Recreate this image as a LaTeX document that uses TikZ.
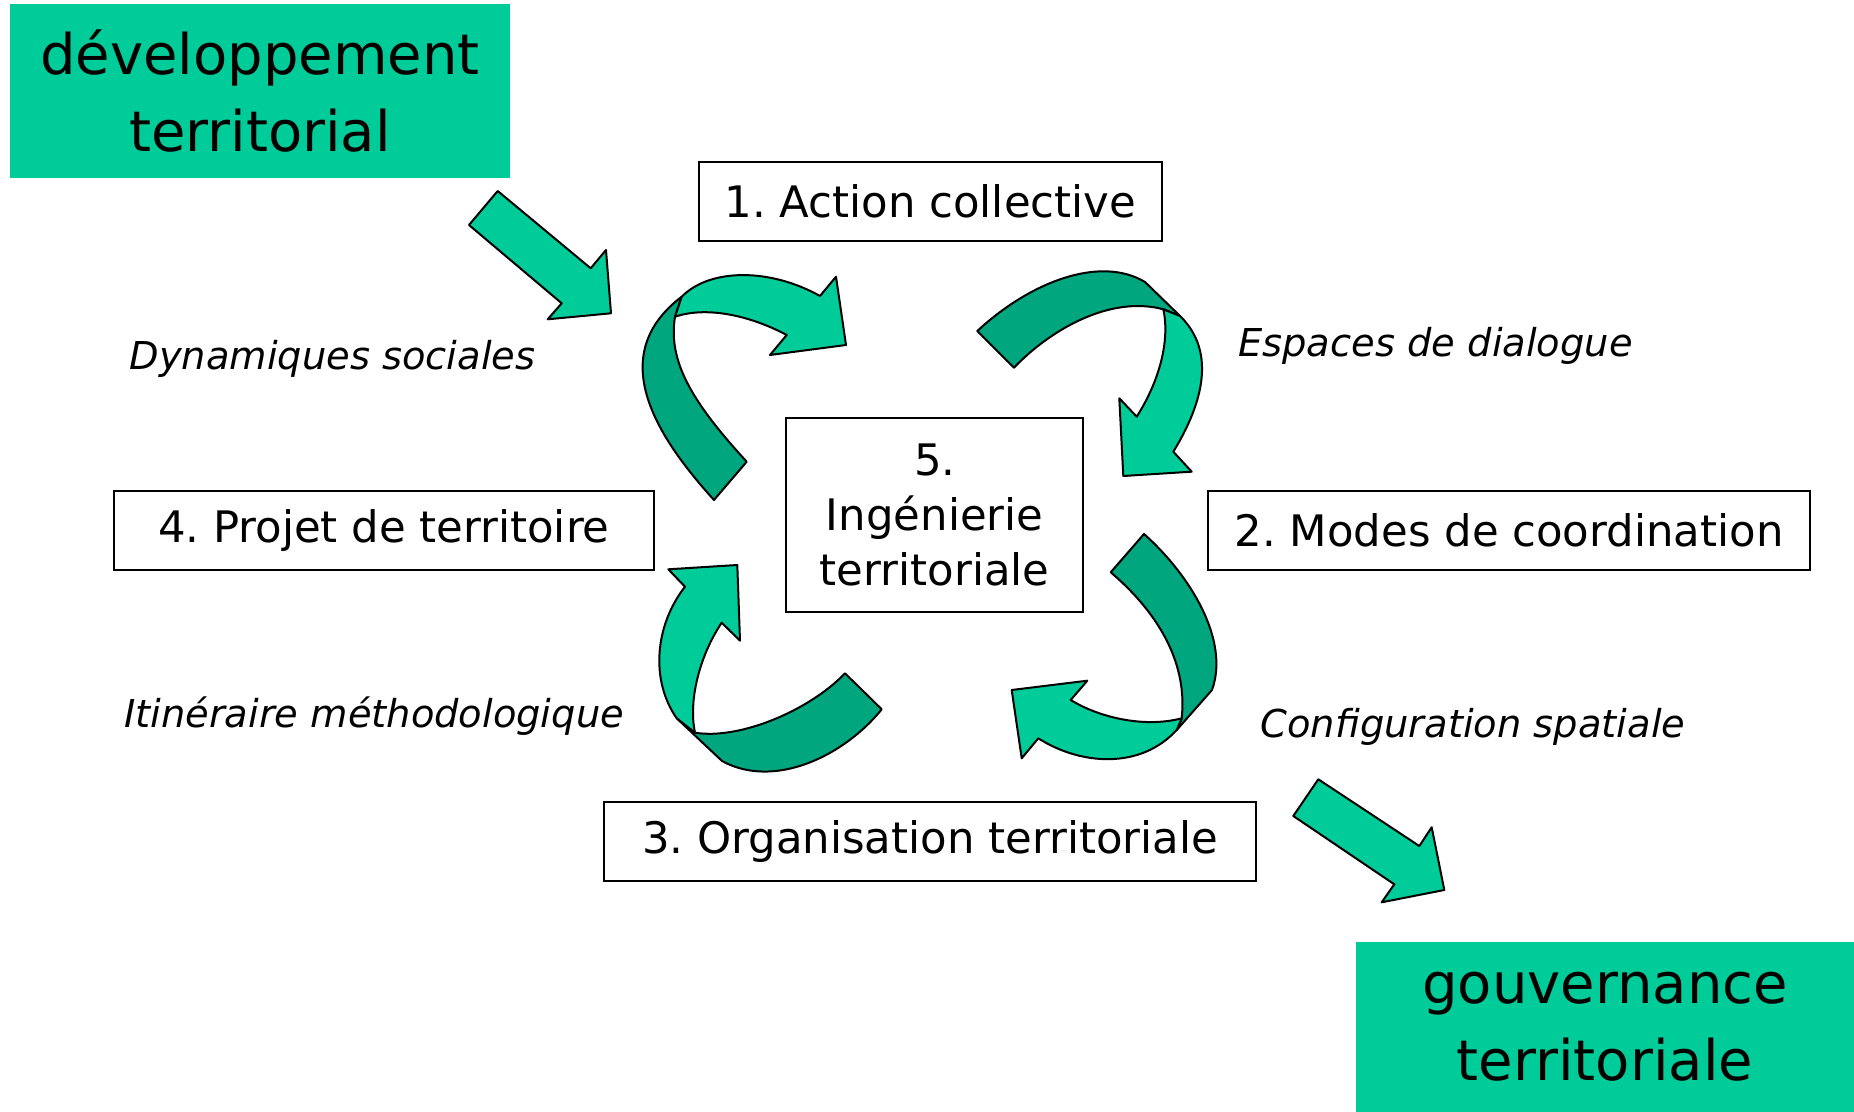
\documentclass[tikz,border=0pt]{standalone}
\usepackage{fontspec}
\setmainfont{DejaVu Sans}
\frenchspacing
\definecolor{lightg}{RGB}{0,204,153}
\definecolor{darkg}{RGB}{0,166,125}
\tikzset{
  box/.style={draw=black, line width=1pt, fill=white, inner sep=0pt, align=center,
    font=\fontsize{21.7}{27.5}\selectfont},
  greenbox/.style={fill=lightg, inner sep=0pt, align=center,
    font=\fontsize{28}{38.5}\selectfont},
  lbl/.style={inner sep=0pt, anchor=base, font=\fontsize{19.2}{22}\selectfont\itshape},
  lightpart/.style={fill=lightg, draw=black, line width=1pt, line join=round},
  darkpart/.style={fill=darkg, draw=black, line width=1pt, line join=round},
}
\begin{document}
\begin{tikzpicture}[x=0.5pt, y=-0.5pt]
\useasboundingbox (0,0) rectangle (1854,1112);

% green boxes
\node[greenbox, minimum width=250pt, minimum height=87.2pt] (dev) at (260,91.2) {développement\\territorial};
\node[greenbox, minimum width=249pt, minimum height=85pt] (gouv) at (1605,1027) {gouvernance\\territoriale};

% straight arrows
\filldraw[lightpart] (497.7,191) -- (590.7,268.3) -- (606,250) -- (611,313.3) -- (547.7,319.3) -- (561.7,303.3) -- (469,225) -- cycle;
\filldraw[lightpart] (1318.3,779.3) -- (1419.3,846) -- (1431.7,827.3) -- (1444.3,890) -- (1381.7,902.3) -- (1394.3,884.3) -- (1293.3,816) -- cycle;

% curved arrow A (top-left)
\filldraw[darkpart] (714,500) .. controls (655,435) and (605,355) .. (681.7,296.7)
  -- (675,316.7) .. controls (668,360) and (690,400) .. (746.7,461.7) -- cycle;
\filldraw[lightpart] (681.7,296.7) .. controls (710,268) and (770,268) .. (820,296)
  -- (836,276.7) -- (846,345) -- (770,355) -- (786.7,335)
  .. controls (755,318) and (710,305) .. (675,316.7) -- cycle;

% curved arrow B (top-right)
\filldraw[darkpart] (977.3,331) .. controls (1030,282) and (1100,255) .. (1145,282)
  -- (1180,316) -- (1163.3,309.3)
  .. controls (1110,295) and (1050,330) .. (1014,367.7) -- cycle;
\filldraw[lightpart] (1180,316) .. controls (1215,350) and (1205,400) .. (1173.3,451.7)
  -- (1191.7,471.7) -- (1123.3,476) -- (1119.3,398.3) -- (1136.7,416.7)
  .. controls (1160,380) and (1170,340) .. (1163.3,309.3) -- cycle;

% curved arrow C (bottom-left)
\filldraw[darkpart] (881.7,709.3) .. controls (845,755) and (775,790) .. (722,761)
  -- (676.7,718.3) -- (695,732.7)
  .. controls (740,740) and (810,710) .. (845,673.3) -- cycle;
\filldraw[lightpart] (676.7,718.3) .. controls (650,680) and (655,625) .. (685,586.7)
  -- (668.3,569.3) -- (737.3,565) -- (740,640.7) -- (721.7,622.7)
  .. controls (700,655) and (688,700) .. (695,732.7) -- cycle;

% curved arrow D (bottom-right)
\filldraw[darkpart] (1144,534) .. controls (1190,575) and (1230,640) .. (1212,690)
  -- (1176.7,730) -- (1181.7,718.3)
  .. controls (1188,660) and (1155,610) .. (1110.7,572.3) -- cycle;
\filldraw[lightpart] (1176.7,730) .. controls (1140,770) and (1080,765) .. (1038.3,738.3)
  -- (1021.7,758.3) -- (1011.7,690) -- (1087.3,680.7) -- (1070.7,700)
  .. controls (1100,718) and (1145,728) .. (1181.7,718.3) -- cycle;

% boxes
\node[box, minimum width=231.3pt, minimum height=39.4pt] (n1) at (930.3,201.7) {1. Action collective};
\node[box, minimum width=301pt, minimum height=39.5pt] (n2) at (1509,530.5) {2. Modes de coordination};
\node[box, minimum width=326pt, minimum height=39.5pt] (n3) at (930,841.5) {3. Organisation territoriale};
\node[box, minimum width=270.3pt, minimum height=39.5pt] (n4) at (383.8,530.5) {4. Projet de territoire};
\node[box, minimum width=148.7pt, minimum height=96.7pt] (n5) at (934.7,515) {5.\\Ingénierie\\territoriale};

% labels
\node[lbl] (l1) at (332.5,370) {Dynamiques sociales};
\node[lbl] (l2) at (1435.5,356.7) {Espaces de dialogue};
\node[lbl] (l3) at (374,727) {Itinéraire méthodologique};
\node[lbl] (l4) at (1473,737) {Configuration spatiale};
\end{tikzpicture}
\end{document}
